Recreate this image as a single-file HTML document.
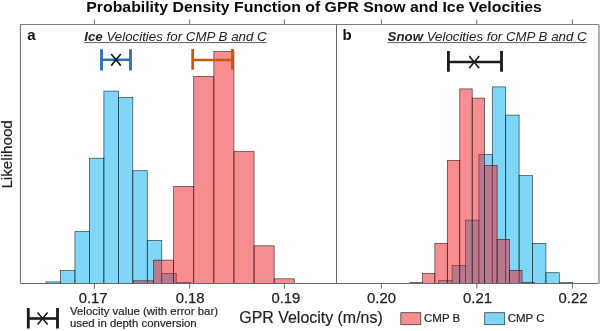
<!DOCTYPE html>
<html><head><meta charset="utf-8"><title>Probability Density Function of GPR Snow and Ice Velocities</title>
<style>html,body{margin:0;padding:0;background:#fff;}body{width:600px;height:331px;overflow:hidden;font-family:"Liberation Sans",sans-serif;}</style></head>
<body>
<svg width="600" height="331" viewBox="0 0 600 331" style="display:block;will-change:transform;font-family:'Liberation Sans',sans-serif">
<rect width="600" height="331" fill="#fff"/>
<g fill="rgba(0,174,239,0.5)" stroke="rgba(20,25,30,0.8)" stroke-width="0.7"><rect x="46.00" y="281.90" width="14.47" height="1.50"/><rect x="60.47" y="270.40" width="14.47" height="13.00"/><rect x="74.94" y="231.40" width="14.47" height="52.00"/><rect x="89.41" y="158.20" width="14.47" height="125.20"/><rect x="103.88" y="91.10" width="14.47" height="192.30"/><rect x="118.35" y="97.30" width="14.47" height="186.10"/><rect x="132.82" y="170.70" width="14.47" height="112.70"/><rect x="147.29" y="240.40" width="14.47" height="43.00"/><rect x="161.76" y="273.40" width="14.47" height="10.00"/><rect x="176.23" y="282.50" width="14.47" height="0.90"/></g>
<g fill="rgba(237,28,36,0.5)" stroke="rgba(35,25,25,0.8)" stroke-width="0.7"><rect x="133.45" y="280.80" width="20.10" height="2.60"/><rect x="153.55" y="260.10" width="20.10" height="23.30"/><rect x="173.65" y="186.40" width="20.10" height="97.00"/><rect x="193.75" y="76.40" width="20.10" height="207.00"/><rect x="213.85" y="51.60" width="20.10" height="231.80"/><rect x="233.95" y="151.50" width="20.10" height="131.90"/><rect x="254.05" y="245.80" width="20.10" height="37.60"/><rect x="274.15" y="278.80" width="20.10" height="4.60"/></g>
<g fill="rgba(0,174,239,0.5)" stroke="rgba(20,25,30,0.8)" stroke-width="0.7"><rect x="438.70" y="280.50" width="13.40" height="2.90"/><rect x="452.10" y="265.50" width="13.40" height="17.90"/><rect x="465.50" y="220.10" width="13.40" height="63.30"/><rect x="478.90" y="154.60" width="13.40" height="128.80"/><rect x="492.30" y="86.90" width="13.40" height="196.50"/><rect x="505.70" y="115.10" width="13.40" height="168.30"/><rect x="519.10" y="175.60" width="13.40" height="107.80"/><rect x="532.50" y="243.40" width="13.40" height="40.00"/><rect x="545.90" y="272.70" width="13.40" height="10.70"/><rect x="559.30" y="282.50" width="13.40" height="0.90"/></g>
<g fill="rgba(237,28,36,0.5)" stroke="rgba(35,25,25,0.8)" stroke-width="0.7"><rect x="409.95" y="282.50" width="12.45" height="0.90"/><rect x="422.40" y="273.30" width="12.45" height="10.10"/><rect x="434.85" y="243.30" width="12.45" height="40.10"/><rect x="447.30" y="160.40" width="12.45" height="123.00"/><rect x="459.75" y="88.90" width="12.45" height="194.50"/><rect x="472.20" y="98.10" width="12.45" height="185.30"/><rect x="484.65" y="165.60" width="12.45" height="117.80"/><rect x="497.10" y="239.40" width="12.45" height="44.00"/><rect x="509.55" y="270.30" width="12.45" height="13.10"/><rect x="522.00" y="282.60" width="12.45" height="0.80"/></g>
<g stroke="#6a6a6a" stroke-width="1" fill="none">
<path d="M20.4 24.5V283.5H598"/>
<path d="M20 24.5H598" stroke="#7c7c7c"/>
<path d="M598.9 24V284" stroke="#a8a8a8" stroke-width="1.9"/>
<line x1="336.5" y1="24.5" x2="336.5" y2="283.5"/>
<line x1="94.4" y1="19.5" x2="94.4" y2="24.5"/>
<line x1="94.4" y1="283.5" x2="94.4" y2="288.6"/>
<line x1="189.7" y1="19.5" x2="189.7" y2="24.5"/>
<line x1="189.7" y1="283.5" x2="189.7" y2="288.6"/>
<line x1="284.4" y1="19.5" x2="284.4" y2="24.5"/>
<line x1="284.4" y1="283.5" x2="284.4" y2="288.6"/>
<line x1="381.4" y1="19.5" x2="381.4" y2="24.5"/>
<line x1="381.4" y1="283.5" x2="381.4" y2="288.6"/>
<line x1="476.8" y1="19.5" x2="476.8" y2="24.5"/>
<line x1="476.8" y1="283.5" x2="476.8" y2="288.6"/>
<line x1="572.4" y1="19.5" x2="572.4" y2="24.5"/>
<line x1="572.4" y1="283.5" x2="572.4" y2="288.6"/>
</g>
<text x="86.3" y="12.2" font-size="15.3" font-weight="bold" textLength="455.6" lengthAdjust="spacingAndGlyphs" fill="#0a0a0a">Probability Density Function of GPR Snow and Ice Velocities</text>
<text x="27.2" y="39.9" font-size="15" font-weight="bold" fill="#111">a</text>
<text x="342.4" y="39.9" font-size="15" font-weight="bold" fill="#111">b</text>
<text x="84.2" y="41" font-size="13" font-style="italic" fill="#222" textLength="182.5" lengthAdjust="spacingAndGlyphs"><tspan font-weight="bold">Ice</tspan> Velocities for CMP B and C</text>
<text x="387.6" y="41" font-size="13" font-style="italic" fill="#222" textLength="199" lengthAdjust="spacingAndGlyphs"><tspan font-weight="bold">Snow</tspan> Velocities for CMP B and C</text>
<path d="M84.2 42.6H266.6M387.6 42.6H586.6" stroke="#333" stroke-width="0.8" fill="none"/>
<text transform="translate(11.9,188.6) rotate(-90)" font-size="14.6" textLength="68.4" lengthAdjust="spacingAndGlyphs" fill="#222" stroke="#222" stroke-width="0.18">Likelihood</text>
<text x="78.7" y="302.8" font-size="14.7" textLength="28.9" lengthAdjust="spacingAndGlyphs" fill="#222" stroke="#222" stroke-width="0.25">0.17</text>
<text x="175.7" y="302.8" font-size="14.7" textLength="28.9" lengthAdjust="spacingAndGlyphs" fill="#222" stroke="#222" stroke-width="0.25">0.18</text>
<text x="271.4" y="302.8" font-size="14.7" textLength="28.9" lengthAdjust="spacingAndGlyphs" fill="#222" stroke="#222" stroke-width="0.25">0.19</text>
<text x="367.1" y="302.8" font-size="14.7" textLength="28.9" lengthAdjust="spacingAndGlyphs" fill="#222" stroke="#222" stroke-width="0.25">0.20</text>
<text x="463.0" y="302.8" font-size="14.7" textLength="28.9" lengthAdjust="spacingAndGlyphs" fill="#222" stroke="#222" stroke-width="0.25">0.21</text>
<text x="558.5" y="302.8" font-size="14.7" textLength="28.9" lengthAdjust="spacingAndGlyphs" fill="#222" stroke="#222" stroke-width="0.25">0.22</text>
<text x="239.3" y="322.6" font-size="16" textLength="143.4" lengthAdjust="spacingAndGlyphs" fill="#222" stroke="#222" stroke-width="0.18">GPR Velocity (m/ns)</text>
<rect x="400.8" y="312.7" width="20" height="12" fill="rgba(237,28,36,0.5)" stroke="rgba(35,25,25,0.8)" stroke-width="0.8"/>
<text x="424" y="322.4" font-size="11.5" fill="#222" stroke="#222" stroke-width="0.18">CMP B</text>
<rect x="484.7" y="312.7" width="20" height="12" fill="rgba(0,174,239,0.5)" stroke="rgba(20,25,30,0.8)" stroke-width="0.8"/>
<text x="507.7" y="322.4" font-size="11.5" fill="#222" stroke="#222" stroke-width="0.18">CMP C</text>
<g stroke="#1a1a1a" fill="none"><path stroke-width="2.8" d="M28.3 308V328.5M57.5 308V328.5"/><path stroke-width="2.6" d="M28.3 318.5H57.5"/></g>
<path stroke="#1a1a1a" stroke-width="1.6" fill="none" d="M37.6 312.6L47.6 324.4M47.6 312.6L37.6 324.4"/>
<text x="70" y="315.3" font-size="11.4" textLength="148" lengthAdjust="spacingAndGlyphs" fill="#222" stroke="#222" stroke-width="0.18">Velocity value (with error bar)</text>
<text x="70" y="327.3" font-size="11.4" textLength="126.6" lengthAdjust="spacingAndGlyphs" fill="#222" stroke="#222" stroke-width="0.18">used in depth conversion</text>
<g stroke="#2a6fbd" fill="none"><path stroke-width="2.8" d="M101.5 49.2V70.5M130.5 49.2V70.5"/><path stroke-width="2.5" d="M101.5 59.8H130.5"/></g>
<path stroke="#1a1a1a" stroke-width="1.65" fill="none" d="M111.2 54L120.8 65.6M120.8 54L111.2 65.6"/>
<g stroke="#c8580f" fill="none"><path stroke-width="2.8" d="M192.7 49V69.8M232.5 49V69.8"/><path stroke-width="2.4" d="M192.7 60H232.5"/></g>
<g stroke="#1a1a1a" fill="none"><path stroke-width="2.8" d="M448.4 51V71.8M501.5 51V71.8"/><path stroke-width="2.6" d="M448.4 62H501.5"/></g>
<path stroke="#1a1a1a" stroke-width="1.65" fill="none" d="M469.2 56L479.2 68.2M479.2 56L469.2 68.2"/>
</svg>
</body></html>
